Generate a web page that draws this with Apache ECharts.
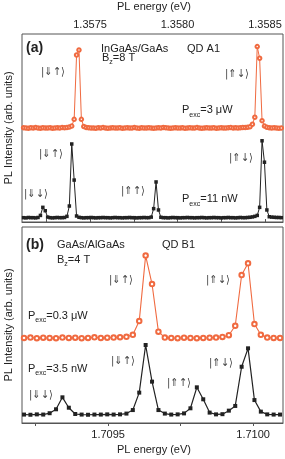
<!DOCTYPE html>
<html><head><meta charset="utf-8">
<script src="https://cdn.jsdelivr.net/npm/echarts@6/dist/echarts.min.js"></script>
<style>html,body{margin:0;padding:0;background:#fff}#c{width:285px;height:459px}</style>
</head><body><div id="c"></div>
<script>
// ---- Panel (a): InGaAs/GaAs QD A1, uniform spectrometer grid ----
const energyA0 = 1.35712;
const energyAStep = 0.00001377;
const intensA_orange = [
50.1,50.0,49.9,50.1,50.0,50.2,50.0,49.9,50.1,50.0,50.0,50.1,49.9,50.0,50.1,50.0,50.2,50.1,50.2,
50.5,51.0,54.6,88.8,91.5,54.6,50.8,50.3,
50.1,50.0,50.0,49.9,50.1,50.0,50.2,50.0,49.9,50.0,
50.1,50.0,50.0,50.1,49.9,50.0,50.1,50.0,50.0,50.2,
50.0,49.9,50.1,50.0,50.0,50.1,50.0,49.9,50.0,50.1,
50.0,50.3,50.1,50.0,49.9,50.0,50.1,50.0,50.0,50.1,
49.9,50.0,50.1,50.0,50.0,50.2,50.0,49.9,50.0,50.1,
50.0,50.0,50.1,49.9,50.0,50.1,50.0,50.0,50.1,50.2,
50.0,50.1,50.0,50.1,50.2,50.3,50.4,
50.6,52.0,55.7,93.3,87.1,53.9,51.0,50.4,50.1,50.0,50.1,50.0,49.9,50.0
];
const intensA_black = [
2.3,2.2,2.4,2.3,2.3,2.2,2.4,
3.5,7.8,6.0,2.6,
2.3,2.2,2.3,2.4,2.3,2.3,2.4,
3.0,8.5,41.5,22.3,3.2,2.5,
2.3,2.2,2.3,2.3,2.4,2.3,2.2,2.3,2.3,2.4,
2.3,2.3,2.2,2.3,2.4,2.3,2.3,2.2,2.3,2.3,
2.4,2.3,2.3,2.2,2.3,2.3,2.4,2.3,2.3,2.6,
7.1,21.3,6.4,
2.5,2.3,2.3,2.2,2.3,2.4,2.3,2.3,2.2,2.3,
2.3,2.4,2.3,2.3,2.2,2.3,2.3,2.4,2.3,2.2,
2.3,2.3,2.4,2.3,2.3,2.2,2.3,2.3,2.4,2.3,
2.3,2.2,2.3,2.4,2.3,2.3,2.4,2.5,2.7,3.0,
3.5,7.8,43.2,31.8,6.4,2.8,
2.6,2.5,2.4,2.4,2.3
];
const labelTicksA = [1.3575, 1.3580, 1.3585];
const minorTicksA = [1.35725, 1.3575, 1.35775, 1.3580, 1.35825, 1.3585];

// ---- Panel (b): GaAs/AlGaAs QD B1 ----
const energyB0 = 1.70921;
const energyBStep = 0.00002207;
const intensB_orange = [
43.4,43.6,43.3,43.5,43.4,43.3,43.6,43.4,43.5,43.3,43.4,43.7,43.4,43.5,43.6,43.8,
44.0,45.0,52.0,85.4,70.9,46.6,43.6,
43.4,43.3,43.5,43.4,43.3,43.4,43.5,43.6,43.9,
44.8,49.6,75.5,81.5,50.5,45.0,43.6,43.4,43.4
];
const intensB_black = [
4.3,4.2,4.4,4.3,
5.0,7.0,13.1,7.8,4.6,
4.3,4.2,4.3,4.3,4.4,4.3,4.4,
4.8,6.6,15.5,39.8,21.1,6.6,4.8,
4.3,4.4,4.9,7.5,18.2,12.1,5.3,
4.4,4.5,
6.3,8.7,28.7,38.1,11.7,5.8,
4.4,4.3,4.3
];
const labelTicksB = [1.7095, 1.7100];
const minorTicksB = [1.70925, 1.7095, 1.70975, 1.7100];

const ORANGE = '#f06a40';
const DARK = '#222';
const FONT = 'Liberation Sans';

function pairs(e0, step, ys) { return ys.map((v, i) => [e0 + i * step, v]); }

function xAx(grid, pos, min, max, labels, ticks, margin) {
  return {
    gridIndex: grid, type: 'value', position: pos, min: min, max: max,
    axisLine: { show: true, lineStyle: { color: '#555', width: 1 } },
    splitLine: { show: false },
    axisTick: { show: true, inside: false, length: 3, customValues: ticks, lineStyle: { color: '#555' } },
    axisLabel: { customValues: labels, formatter: v => v.toFixed(4), margin: margin,
      fontSize: 11, fontFamily: FONT, color: DARK }
  };
}

function T(x, y, text, opt) {
  opt = opt || {};
  return { type: 'text', x: x, y: y, rotation: opt.rot || 0, silent: true,
    style: { text: text, fontSize: opt.size || 11, fontFamily: opt.family || FONT,
      fontWeight: opt.weight || 'normal', fill: opt.color || DARK,
      align: opt.align || 'left', verticalAlign: 'middle' } };
}
function KET(x, y, text) {
  return T(x, y, text, { size: 11, family: '"DejaVu Sans Condensed", "DejaVu Sans"', color: '#444' });
}
function SUB(x, y, main, sub, rest) {
  return { type: 'text', x: x, y: y, silent: true,
    style: { text: '{m|' + main + '}{s|' + sub + '}{m|' + rest + '}', align: 'left', verticalAlign: 'middle',
      rich: {
        m: { fontSize: 11, fontFamily: FONT, fill: DARK, lineHeight: 14, verticalAlign: 'top' },
        s: { fontSize: 7, fontFamily: FONT, fill: DARK, lineHeight: 7, verticalAlign: 'bottom', padding: [7.5, 0, 0, 0] }
      } } };
}

const chart = echarts.init(document.getElementById('c'), null, { renderer: 'canvas' });
chart.setOption({
  animation: false,
  backgroundColor: '#fff',
  grid: [
    { left: 22, top: 34, width: 261, height: 188, show: true, borderColor: '#555', borderWidth: 1, backgroundColor: 'transparent' },
    { left: 22, top: 227, width: 261, height: 196, show: true, borderColor: '#555', borderWidth: 1, backgroundColor: 'transparent' }
  ],
  xAxis: [
    xAx(0, 'top', 1.357111, 1.358603, labelTicksA, minorTicksA, 4),
    xAx(1, 'bottom', 1.709203, 1.710103, labelTicksB, minorTicksB, 6)
  ],
  yAxis: [
    { gridIndex: 0, type: 'value', min: 0, max: 100, show: false },
    { gridIndex: 1, type: 'value', min: 0, max: 100, show: false }
  ],
  series: [
    { type: 'line', xAxisIndex: 0, yAxisIndex: 0, data: pairs(energyA0, energyAStep, intensA_orange),
      symbol: 'emptyCircle', symbolSize: 3.5, showAllSymbol: true,
      lineStyle: { color: ORANGE, width: 1 }, itemStyle: { color: ORANGE, borderColor: ORANGE, borderWidth: 1 } },
    { type: 'line', xAxisIndex: 0, yAxisIndex: 0, data: pairs(energyA0, energyAStep, intensA_black),
      symbol: 'rect', symbolSize: 3.5, showAllSymbol: true,
      lineStyle: { color: DARK, width: 1 }, itemStyle: { color: DARK } },
    { type: 'line', xAxisIndex: 1, yAxisIndex: 1, data: pairs(energyB0, energyBStep, intensB_orange),
      symbol: 'emptyCircle', symbolSize: 4.5, showAllSymbol: true,
      lineStyle: { color: ORANGE, width: 1.1 }, itemStyle: { color: ORANGE, borderColor: ORANGE, borderWidth: 1 } },
    { type: 'line', xAxisIndex: 1, yAxisIndex: 1, data: pairs(energyB0, energyBStep, intensB_black),
      symbol: 'rect', symbolSize: 4, showAllSymbol: true,
      lineStyle: { color: DARK, width: 1.2 }, itemStyle: { color: DARK } }
  ],
  graphic: { elements: [
    T(154, 7, 'PL energy (eV)', { align: 'center' }),
    T(154, 450, 'PL energy (eV)', { align: 'center' }),
    T(9, 128, 'PL Intensity (arb. units)', { align: 'center', rot: Math.PI / 2 }),
    T(9, 325, 'PL Intensity (arb. units)', { align: 'center', rot: Math.PI / 2 }),
    // panel (a)
    T(26, 48.5, '(a)', { size: 14, weight: 'bold' }),
    T(101, 48.5, 'InGaAs/GaAs'),
    T(187, 48.5, 'QD A1'),
    SUB(102, 59, 'B', 'z', '=8 T'),
    KET(41, 72, '|⇓↑⟩'),
    KET(225, 74, '|⇑↓⟩'),
    SUB(182, 111.5, 'P', 'exc', '=3 μW'),
    KET(39, 154, '|⇓↑⟩'),
    KET(24, 194, '|⇓↓⟩'),
    KET(121, 191, '|⇑↑⟩'),
    KET(229, 158, '|⇑↓⟩'),
    SUB(182, 200.5, 'P', 'exc', '=11 nW'),
    // panel (b)
    T(26, 245, '(b)', { size: 14, weight: 'bold' }),
    T(57, 245, 'GaAs/AlGaAs'),
    T(162, 245, 'QD B1'),
    SUB(57, 261, 'B', 'z', '=4 T'),
    KET(109, 280, '|⇓↑⟩'),
    KET(206, 280, '|⇑↓⟩'),
    SUB(28, 317, 'P', 'exc', '=0.3 μW'),
    SUB(28, 370, 'P', 'exc', '=3.5 nW'),
    KET(111, 361, '|⇓↑⟩'),
    KET(29, 395, '|⇓↓⟩'),
    KET(167, 383, '|⇑↑⟩'),
    KET(209, 363, '|⇑↓⟩')
  ] }
});
</script>
</body></html>
